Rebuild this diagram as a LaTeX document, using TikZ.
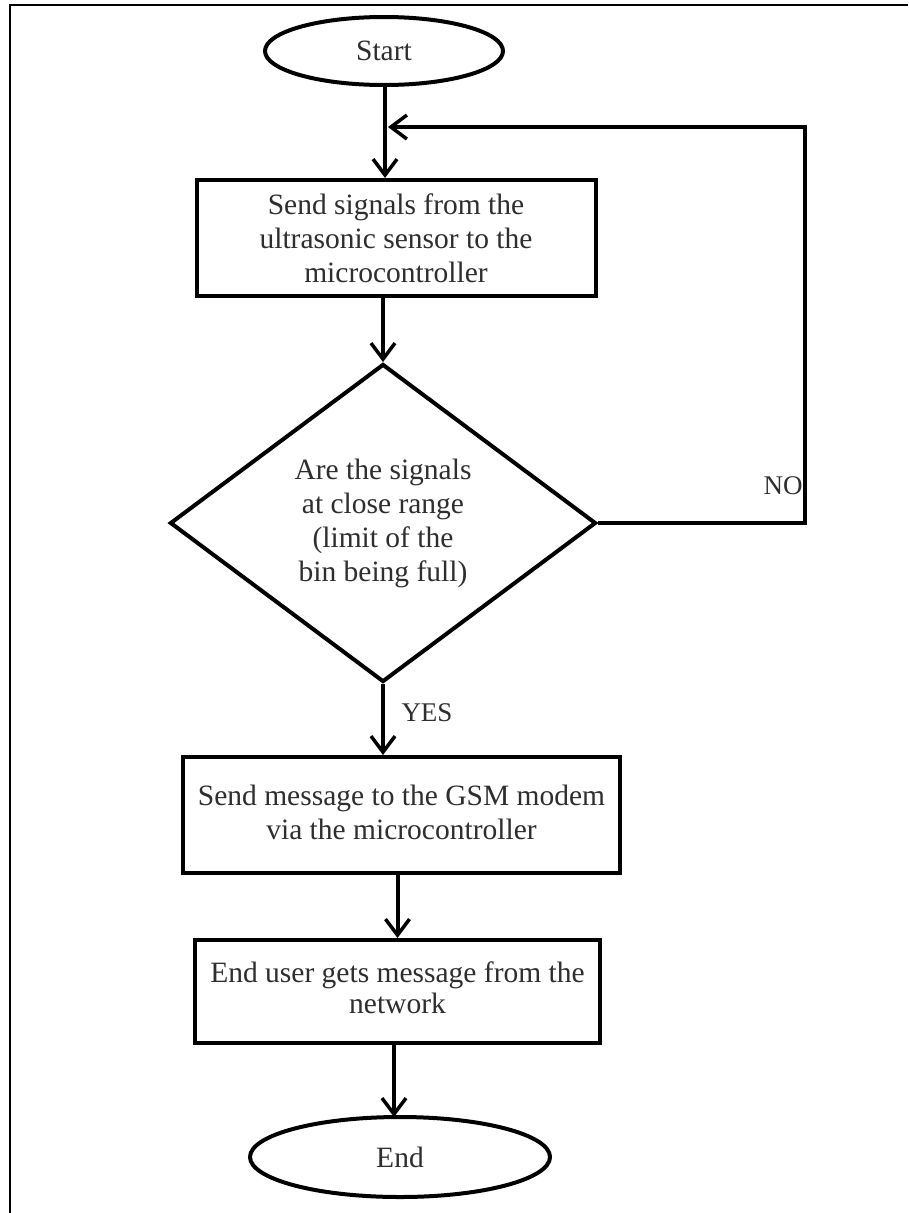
\documentclass[tikz,border=0pt]{standalone}
\usepackage{fontspec}
\setmainfont{Liberation Serif}
\usetikzlibrary{shapes.geometric,arrows.meta}
\definecolor{txt}{HTML}{2e2e2e}
\begin{document}
\begin{tikzpicture}[x=1pt,y=-1pt,
  every node/.style={font=\fontsize{29.5}{34}\selectfont, text=txt, align=center, inner sep=0pt},
  shp/.style={draw=black, line width=4pt},
  term/.style={shp, ellipse},
  procbox/.style={shp, rectangle},
  decide/.style={shp, diamond, aspect=1.34},
  arr/.style={draw=black, line width=4pt, -{Straight Barb[length=16pt,width=24pt,line width=3.5pt]}},
  lbl/.style={font=\fontsize{27}{30}\selectfont}
]
\useasboundingbox (0,0) rectangle (908,1213);
\fill[white] (0,0) rectangle (908,1213);
\draw[line width=2.5pt] (10,1213) -- (10,5) -- (908,5);

\node[term, minimum width=238pt, minimum height=68pt] (start) at (384,51) {Start};
\node[procbox, minimum width=399pt, minimum height=116pt] (b1) at (396,238)
  {Send signals from the\\ultrasonic sensor to the\\microcontroller};
\node[decide, minimum width=426pt, minimum height=318pt] (dec) at (383,523)
  {Are the signals\\at close range\\(limit of the\\bin being full)};
\node[procbox, minimum width=437pt, minimum height=116pt] (b3) at (401.5,815)
  {\raisebox{6pt}{\shortstack{Send message to the GSM modem\\[4pt]via the microcontroller}}};
\node[procbox, minimum width=405pt, minimum height=103pt] (b4) at (397.5,991.5)
  {\raisebox{8pt}{\shortstack{End user gets message from the\\[1pt]network}}};
\node[term, minimum width=300pt, minimum height=80pt] (end) at (400,1157) {End};

\coordinate (loopc) at (805,127);
\coordinate (join) at (388,127);

\draw[arr] (start.south -| 385,0) -- (b1.north -| 385,0);
\draw[arr] (dec.east) -| (loopc) -- (join);
\draw[arr] (dec.north |- b1.south) -- (dec.north);
\draw[arr] (dec.south) -- (dec.south |- b3.north);
\draw[arr] (b4.north |- b3.south) -- (b4.north);
\draw[arr] (b4.south -| 394,0) -- (394,1117);

\node[lbl] (no) at (783,486) {NO};
\node[lbl] (yes) at (427,713) {YES};
\end{tikzpicture}
\end{document}
